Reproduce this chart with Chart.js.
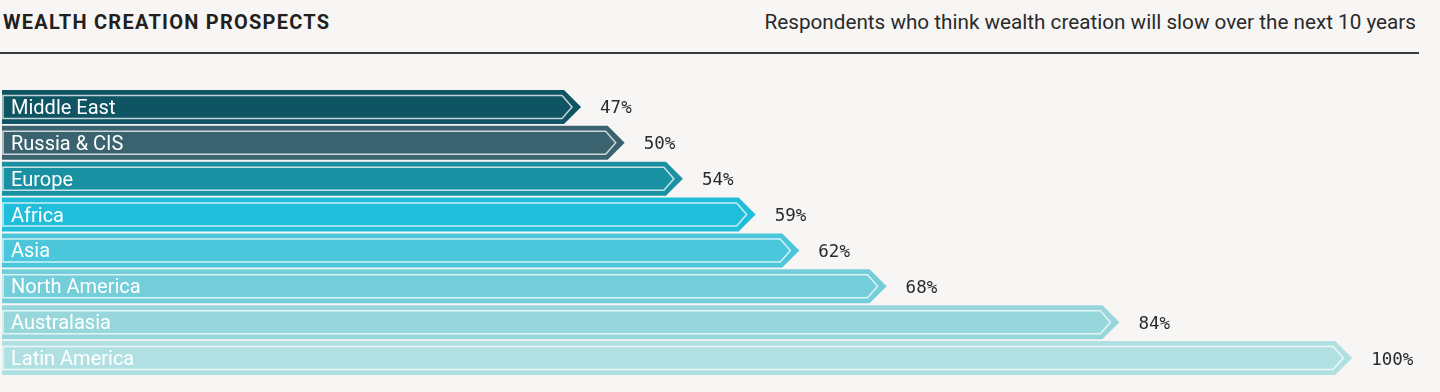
<!DOCTYPE html>
<html>
<head>
<meta charset="utf-8">
<script src="https://cdn.jsdelivr.net/npm/chart.js@4.4.0/dist/chart.umd.min.js"></script>
<style>
  html, body { margin: 0; padding: 0; background: #f7f6f4; }
  body { width: 1440px; height: 392px; position: relative; overflow: hidden; font-family: Roboto, sans-serif; }
  .title { position: absolute; left: 3px; top: 10px; font-size: 20px; font-weight: 700; color: #231f20; letter-spacing: 1.25px; }
  .subtitle { position: absolute; right: 24px; top: 10px; font-size: 20.7px; color: #2a2a2a; }
  .rule { position: absolute; left: 0; top: 52px; width: 1419px; height: 2px; background: #3a3a3a; }
  .wrap { position: absolute; left: 0; top: 0; width: 1440px; height: 392px; }
</style>
</head>
<body>
<div class="title">WEALTH CREATION PROSPECTS</div>
<div class="subtitle">Respondents who think wealth creation will slow over the next 10 years</div>
<div class="rule"></div>
<div class="wrap"><canvas id="chart"></canvas></div>

<script>
/* ── Data ── */
const categories = ['Middle East', 'Russia & CIS', 'Europe', 'Africa', 'Asia', 'North America', 'Australasia', 'Latin America'];
const values     = [47, 50, 54, 59, 62, 68, 84, 100];
const barColors  = ['#0f5463', '#3a636f', '#1a90a3', '#21bedb', '#4bc6da', '#74ceda', '#97d7dc', '#b0e0e2'];

/* ── Arrow-shaped bars drawn from each bar element ── */
const arrowBars = {
  id: 'arrowBars',
  afterDatasetsDraw(chart) {
    const ctx  = chart.ctx;
    const meta = chart.getDatasetMeta(0);
    meta.data.forEach((el, i) => {
      const { x, y, height } = el.getProps(['x', 'y', 'height'], true);
      const base = chart.chartArea.left;   // axis starts above zero, bars begin at the left edge
      const h    = height / 2;
      const top  = y - h;
      const bot  = y + h;

      // outer arrow
      ctx.save();
      ctx.fillStyle = barColors[i];
      ctx.beginPath();
      ctx.moveTo(base, top);
      ctx.lineTo(x - h, top);
      ctx.lineTo(x, y);
      ctx.lineTo(x - h, bot);
      ctx.lineTo(base, bot);
      ctx.closePath();
      ctx.fill();

      // inner outline
      const ins = 5.5;
      ctx.strokeStyle = 'rgba(255,255,255,0.75)';
      ctx.lineWidth = 1.5;
      ctx.beginPath();
      ctx.moveTo(base + 1, top + ins);
      ctx.lineTo(x - h - 2, top + ins);
      ctx.lineTo(x - 9, y);
      ctx.lineTo(x - h - 2, bot - ins);
      ctx.lineTo(base + 1, bot - ins);
      ctx.closePath();
      ctx.stroke();

      // category label
      ctx.fillStyle = '#ffffff';
      ctx.font = '20px Roboto, sans-serif';
      ctx.textBaseline = 'middle';
      ctx.textAlign = 'left';
      ctx.fillText(categories[i], base + 9, y + 2);

      // value label
      ctx.fillStyle = '#2a2a2a';
      ctx.font = '17.5px "DejaVu Sans Mono", monospace';
      ctx.fillText(values[i] + '%', x + 19, y + 2);
      ctx.restore();
    });
  },
};

new Chart(document.getElementById('chart'), {
  type: 'bar',
  data: {
    labels: categories,
    datasets: [{
      data: values,
      backgroundColor: 'rgba(0,0,0,0)',
      borderWidth: 0,
      categoryPercentage: 1,
      barPercentage: 0.95,
    }],
  },
  options: {
    indexAxis: 'y',
    responsive: true,
    maintainAspectRatio: false,
    animation: false,
    layout: { padding: { left: 2, right: 20, top: 89, bottom: 16 } },
    plugins: { legend: { display: false }, tooltip: { enabled: false } },
    scales: {
      x: { display: false, min: 7.2, max: 104.66 },
      y: { display: false },
    },
  },
  plugins: [arrowBars],
});
</script>
</body>
</html>
